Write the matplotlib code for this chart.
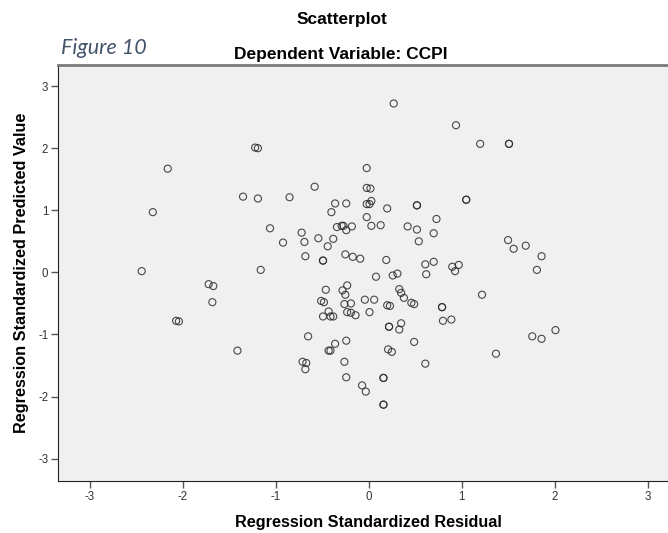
import matplotlib
matplotlib.use("Agg")
import matplotlib.pyplot as plt
import numpy as np

# Residual / predicted pairs (duplicates = overplotted points)
std_residual = [
    -1.22, -1.19, -2.16, -2.32, -2.44, -1.35, -1.19, -0.85, -0.58, -0.02,
    -0.36, -0.24, -0.40, -0.02, 0.02, -0.02, 0.01, 0.03, -0.02, 0.03,
    0.13, -1.06, -0.92, -0.72, -0.69, -0.54, -0.44, -0.38, -0.34, -0.29,
    -0.27, -0.24, -0.18, -0.68, -0.49, -0.49, -0.25, -0.17, -0.09, -1.16,
    -1.72, -1.67, -0.46, -0.28, -0.23, -0.25, -1.68, -2.07, -2.04, -1.41,
    -0.04, -0.51, -0.48, -0.26, -0.19, -0.43, -0.49, -0.41, -0.38, -0.23,
    -0.19, -0.14, 0.01, -0.65, -0.36, -0.43, -0.41, -0.24, -0.26, -0.71,
    -0.67, -0.68, -0.24, -0.07, -0.03, 0.27, 0.94, 1.20, 1.51, 1.51,
    0.20, 0.52, 0.52, 1.05, 1.05, 0.73, 0.42, 0.52, 0.70, 0.54,
    1.50, 1.56, 1.69, 1.86, 1.81, 0.19, 0.08, 0.26, 0.31, 0.61,
    0.70, 0.62, 0.90, 0.97, 0.93, 0.33, 0.35, 0.38, 0.06, 0.20,
    0.23, 0.46, 0.49, 0.79, 0.79, 1.22, 0.80, 0.89, 0.22, 0.22,
    0.35, 0.33, 0.49, 0.21, 0.25, 0.61, 1.37, 1.76, 1.86, 2.01,
    0.16, 0.16, 0.16, 0.16,
]
std_predicted = [
    2.01, 2.00, 1.67, 0.97, 0.02, 1.22, 1.19, 1.21, 1.38, 1.68,
    1.11, 1.11, 0.97, 1.36, 1.35, 1.10, 1.10, 1.15, 0.89, 0.75,
    0.76, 0.71, 0.48, 0.64, 0.49, 0.55, 0.42, 0.54, 0.73, 0.75,
    0.75, 0.68, 0.74, 0.26, 0.19, 0.19, 0.29, 0.25, 0.22, 0.04,
    -0.19, -0.22, -0.28, -0.29, -0.21, -0.36, -0.48, -0.78, -0.79, -1.26,
    -0.44, -0.46, -0.48, -0.51, -0.50, -0.63, -0.71, -0.71, -0.71, -0.64,
    -0.65, -0.69, -0.64, -1.03, -1.15, -1.26, -1.26, -1.10, -1.44, -1.44,
    -1.46, -1.56, -1.69, -1.82, -1.92, 2.72, 2.37, 2.07, 2.07, 2.07,
    1.03, 1.08, 1.08, 1.17, 1.17, 0.86, 0.74, 0.69, 0.63, 0.50,
    0.52, 0.38, 0.43, 0.26, 0.04, 0.20, -0.07, -0.05, -0.02, 0.13,
    0.17, -0.03, 0.09, 0.12, 0.02, -0.27, -0.33, -0.41, -0.44, -0.53,
    -0.54, -0.49, -0.51, -0.56, -0.56, -0.36, -0.78, -0.76, -0.875, -0.875,
    -0.82, -0.92, -1.12, -1.24, -1.28, -1.47, -1.31, -1.03, -1.07, -0.93,
    -1.70, -1.70, -2.13, -2.13,
]
ticks = [-3, -2, -1, 0, 1, 2, 3]

plt.rcParams["font.family"] = ["Liberation Sans", "DejaVu Sans"]
plt.rcParams["axes.unicode_minus"] = False

W, H = 668, 533
fig = plt.figure(figsize=(W / 100, H / 100), dpi=100)
ax = fig.add_axes([58 / W, 1 - 481 / H, 610 / W, 416 / H])
ax.set_facecolor("#f0f0f0")

ax.scatter(std_residual, std_predicted, s=26, facecolors="none",
           edgecolors="#2a2a2a", linewidths=0.8, alpha=0.85, zorder=3)

ax.set_xlim(-3.34, 3.22)
ax.set_ylim(-3.36, 3.34)
ax.set_xticks(ticks)
ax.set_yticks(ticks)
ax.tick_params(direction="out", length=5, width=1, color="#555555",
               labelsize=8.3, labelcolor="#333333", pad=2)

ax.spines["right"].set_visible(False)
ax.spines["top"].set_color("#7a7a7a")
ax.spines["top"].set_linewidth(2)
ax.spines["left"].set_color("#222222")
ax.spines["bottom"].set_color("#222222")

# axis titles placed in pixel terms to match the SPSS layout
fig.text(368 / W, 1 - 522 / H, "Regression Standardized Residual",
         ha="center", va="center", fontsize=11.7, fontweight="bold")
fig.text(22 / W, 1 - 272.5 / H, "Regression Standardized Predicted Value",
         ha="center", va="center", rotation=90, fontsize=11.7,
         fontweight="bold")

fig.text(342 / W, 1 - 24 / H, "Scatterplot", ha="center", va="baseline",
         fontsize=12.5, fontweight="bold")
fig.text(341 / W, 1 - 58.5 / H, "Dependent Variable: CCPI", ha="center",
         va="baseline", fontsize=12.5, fontweight="bold")
fig.text(61 / W, 1 - 54.3 / H, "Figure 10", ha="left", va="baseline",
         fontsize=15.5, style="italic", color="#44546a",
         family=["Lato", "DejaVu Sans"])

fig.savefig("out.png", dpi=100)
